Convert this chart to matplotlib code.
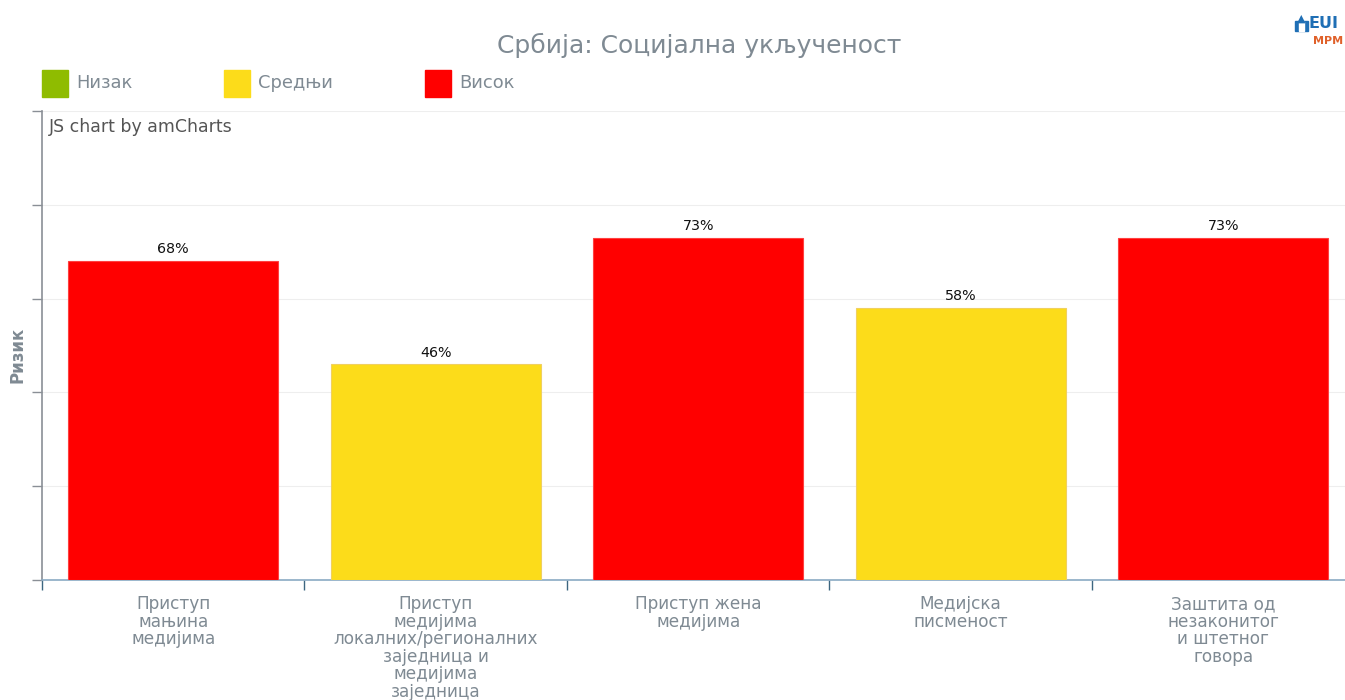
import matplotlib.pyplot as plt
from matplotlib.patches import Rectangle

# data
categories = ['Приступ\nмањина\nмедијима',
              'Приступ\nмедијима\nлокалних/регионалних\nзаједница и\nмедијима\nзаједница',
              'Приступ жена\nмедијима',
              'Медијска\nписменост',
              'Заштита од\nнезаконитог\nи штетног\nговора']
values = [68, 46, 73, 58, 73]
levels = ['Висок', 'Средњи', 'Висок', 'Средњи', 'Висок']
legend_labels = ['Низак', 'Средњи', 'Висок']
level_colors = {'Низак': '#8fbc00', 'Средњи': '#fcdc1a', 'Висок': '#ff0000'}
edge_colors = {'Низак': '#a8cc40', 'Средњи': '#f0d060', 'Висок': '#ff4040'}

grey = '#7f8a93'
W, H = 1345, 700

fig = plt.figure(figsize=(13.45, 7.0), dpi=100)
ax = fig.add_axes([42 / W, 120 / H, 1312.5 / W, 469 / H])

x = range(len(categories))
ax.bar(x, values, width=0.8,
       color=[level_colors[l] for l in levels],
       edgecolor=[edge_colors[l] for l in levels], linewidth=0.8, zorder=3)
for xi, v in zip(x, values):
    ax.text(xi, v + 1.0, f'{v}%', ha='center', va='bottom', fontsize=10.3, color='#111111')

ax.set_xlim(-0.5, len(categories) - 0.5)
ax.set_ylim(0, 100)
ax.set_yticks([0, 20, 40, 60, 80, 100])
ax.set_yticklabels([])
ax.grid(axis='y', color='#eeeeee', linewidth=0.8, zorder=0)
ax.set_xticks([i - 0.5 for i in range(len(categories))])
ax.set_xticklabels([])
ax.tick_params(axis='x', length=7, color='#3d6680', direction='out', width=1)
ax.tick_params(axis='y', length=7, color='#8a8f96', direction='out', width=1)
for xi, lab in zip(x, categories):
    ax.text(xi, -3.2, lab, ha='center', va='top', fontsize=12.2, color=grey,
            linespacing=0.97)

for s in ['top', 'right']:
    ax.spines[s].set_visible(False)
ax.spines['left'].set_color('#8a8f96')
ax.spines['bottom'].set_color('#8aaac4')
ax.spines['left'].set_linewidth(1.2)
ax.spines['bottom'].set_linewidth(1.2)

fig.text(17 / W, 1 - 355 / H, 'Ризик', rotation=90, ha='center', va='center',
         fontsize=12, fontweight='bold', color=grey)
ax.text(0.005, 0.985, 'JS chart by amCharts', transform=ax.transAxes, ha='left', va='top',
        fontsize=12.5, color='#555555')

fig.text(699 / W, 1 - 45 / H, 'Србија: Социјална укљученост', ha='center', va='center',
         fontsize=18, color='#7f8a93')

# legend
lx = [42, 224, 425]
for px, lab in zip(lx, legend_labels):
    fig.patches.append(Rectangle((px / W, 1 - 97 / H), 26 / W, 27 / H,
                                 transform=fig.transFigure, color=level_colors[lab]))
    fig.text((px + 34) / W, 1 - 83 / H, lab, ha='left', va='center', fontsize=12.9,
             color=grey)

# logo
fig.patches.append(Rectangle((1295 / W, 1 - 31 / H), 13 / W, 10 / H,
                             transform=fig.transFigure, color='#1f6fb5'))
fig.patches.append(Rectangle((1299 / W, 1 - 31 / H), 5 / W, 9 / H,
                             transform=fig.transFigure, color='white'))
fig.text(1301.5 / W, 1 - 19 / H, '\u25B2', ha='center', va='center', fontsize=8,
         color='#1f6fb5')
fig.text(1308 / W, 1 - 23 / H, 'EUI', ha='left', va='center', fontsize=11.5,
         fontweight='bold', color='#1f6fb5')
fig.text(1328 / W, 1 - 41 / H, 'MPM', ha='center', va='center', fontsize=8,
         fontweight='bold', color='#e0612a')

fig.savefig('out.png', dpi=100)
